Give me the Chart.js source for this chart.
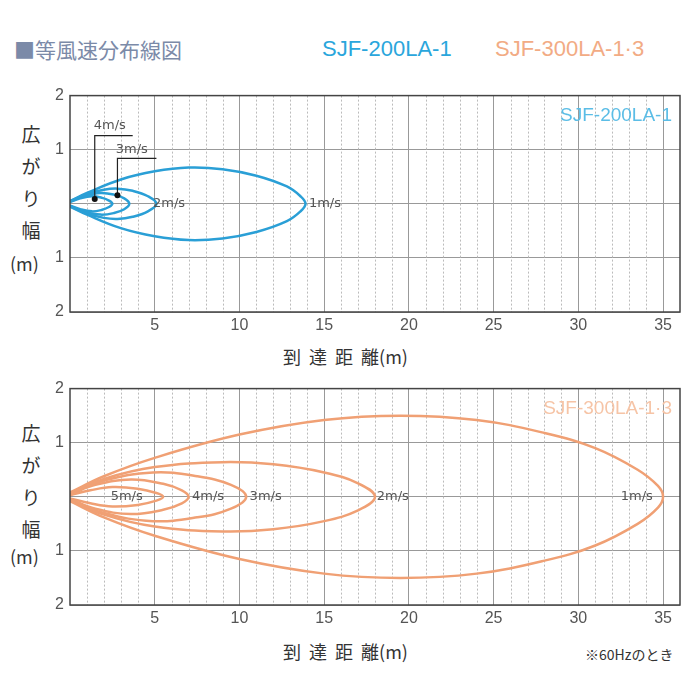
<!DOCTYPE html>
<html><head><meta charset="utf-8">
<script src="https://cdn.jsdelivr.net/npm/chart.js@4"></script>
<style>
body{margin:0;width:700px;height:700px;background:#fff;position:relative;overflow:hidden;font-family:"Noto Sans CJK JP","Noto Sans",sans-serif;color:#444}
canvas{position:absolute;left:0}
.t{position:absolute;white-space:nowrap}
.yt{position:absolute;left:18px;font-size:19px;line-height:32px;width:26px;text-align:center;color:#333}
</style></head><body>
<div class="t" style="left:14px;top:34px;font-size:21px;color:#7b8aa8">■等風速分布線図</div>
<div class="t" style="left:322px;top:36px;font-size:22px;color:#2aa6dc;font-family:'Liberation Sans',sans-serif">SJF-200LA-1</div>
<div class="t" style="left:495px;top:36px;font-size:22px;color:#f2ab84;font-family:'Liberation Sans',sans-serif">SJF-300LA-1·3</div>
<div class="yt" style="top:118px">広<br>が<br>り<br>幅</div>
<div class="t" style="left:10px;top:250px;font-size:18px;color:#333">(m)</div>
<div class="yt" style="top:417px">広<br>が<br>り<br>幅</div>
<div class="t" style="left:10px;top:543px;font-size:18px;color:#333">(m)</div>
<div class="t" style="left:283px;top:343px;font-size:18px;color:#333;word-spacing:4px">到 達 距 離(m)</div>
<div class="t" style="left:283px;top:638px;font-size:18px;color:#333;word-spacing:4px">到 達 距 離(m)</div>
<div class="t" style="left:585px;top:644px;font-size:14px;color:#333">※60Hzのとき</div>
<canvas id="c1" width="700" height="258" style="top:80px"></canvas>
<canvas id="c2" width="700" height="258" style="top:373px"></canvas>
<script>
// upper half of each contour [x, halfWidth]; lower half is the mirror
const top1 = [[0,0.05],[1,0.2],[3,0.45],[5,0.6],[7,0.67],[9,0.64],[11,0.52],[12.8,0.32],[13.6,0.14],[13.9,0]];
const top2 = [[0,0.05],[1,0.18],[2,0.26],[2.8,0.28],[3.7,0.24],[4.6,0.14],[5.1,0]];
const top3 = [[0,0.04],[0.8,0.14],[1.8,0.2],[2.6,0.17],[3.2,0.1],[3.5,0]];
const top4 = [[0,0.03],[0.6,0.1],[1.3,0.14],[1.9,0.11],[2.3,0.06],[2.5,0]];
const bot1 = [[0,0.08],[2,0.38],[5,0.72],[10,1.15],[15,1.42],[19.5,1.5],[24,1.42],[28,1.18],[31,0.9],[33.5,0.5],[34.7,0.2],[35,0]];
const bot2 = [[0,0.06],[2,0.33],[5,0.55],[9,0.64],[12,0.6],[15,0.45],[17,0.25],[18,0]];
const bot3 = [[0,0.05],[2,0.3],[4.9,0.45],[7.5,0.38],[9.5,0.22],[10.4,0]];
const bot4 = [[0,0.04],[1.5,0.22],[3.6,0.32],[5.5,0.24],[6.6,0.12],[7,0]];
const bot5 = [[0,0.03],[1.2,0.12],[2.5,0.18],[4,0.15],[5.1,0.07],[5.5,0]];
const topLabels = [['2m/s',4.9,0,'left'],['1m/s',14.1,0,'left'],['4m/s',1.4,1.45,'left'],['3m/s',2.7,1.0,'left']];
const botLabels = [['5m/s',2.4,0,'left'],['4m/s',7.2,0,'left'],['3m/s',10.6,0,'left'],['2m/s',18.1,0,'left'],['1m/s',34.4,0,'right']];
const leaders = [[[1.46,0.09],[1.46,1.26],[3.7,1.26]],[[2.8,0.16],[2.8,0.84],[5.1,0.84]]];
const xTicks = [5,10,15,20,25,30,35];

function loop(half){
  const up = half.map(p => ({x:p[0], y:p[1]}));
  const low = half.slice(0,-1).reverse().map(p => ({x:p[0], y:-p[1]}));
  return up.concat(low);
}

const overlay = {
  id:'overlay',
  beforeDatasetsDraw(chart){
    const {ctx, chartArea:a, scales:{x}} = chart;
    ctx.save();
    ctx.strokeStyle='#bbb'; ctx.lineWidth=1; ctx.setLineDash([2,2]);
    for(let v=1; v<36; v++){
      if(v%5===0) continue;
      const px=Math.round(x.getPixelForValue(v))+0.5;
      ctx.beginPath(); ctx.moveTo(px,a.top); ctx.lineTo(px,a.bottom); ctx.stroke();
    }
    ctx.restore();
  },
  afterDatasetsDraw(chart, args, opts){
    const {ctx, chartArea:a, scales:{x,y}} = chart;
    ctx.save();
    ctx.strokeStyle='#444'; ctx.lineWidth=1.5;
    ctx.strokeRect(a.left,a.top,a.right-a.left,a.bottom-a.top);
    ctx.fillStyle='#555'; ctx.font='13px "DejaVu Sans"'; ctx.textBaseline='middle';
    (opts.labels||[]).forEach(l=>{
      ctx.textAlign=l[3];
      ctx.fillText(l[0], x.getPixelForValue(l[1]), y.getPixelForValue(l[2]));
    });
    ctx.font='19px "Liberation Sans"'; ctx.fillStyle=opts.nameColor; ctx.textAlign='right';
    ctx.fillText(opts.name, a.right-8, a.top+20);
    (opts.leaders||[]).forEach(pts=>{
      ctx.strokeStyle='#222'; ctx.lineWidth=1.2; ctx.beginPath();
      pts.forEach((p,i)=>{const px=x.getPixelForValue(p[0]),py=y.getPixelForValue(p[1]); i?ctx.lineTo(px,py):ctx.moveTo(px,py);});
      ctx.stroke();
      ctx.fillStyle='#111'; ctx.beginPath();
      ctx.arc(x.getPixelForValue(pts[0][0]),y.getPixelForValue(pts[0][1]),3,0,Math.PI*2); ctx.fill();
    });
    ctx.restore();
  }
};

function makeChart(id, contours, color, labels, name, nameColor, lead){
  return new Chart(document.getElementById(id), {
    type:'scatter',
    data:{datasets: contours.map(c=>({data:loop(c), showLine:true, tension:0.4, borderColor:color, borderWidth:2.5, pointRadius:0, fill:false}))},
    options:{
      responsive:false, animation:false,
      layout:{padding:{top:8,right:20,left:0,bottom:0}},
      plugins:{legend:{display:false}, tooltip:{enabled:false},
        overlay:{labels, name, nameColor, leaders:lead}},
      scales:{
        x:{type:'linear', min:0, max:36,
          afterBuildTicks:s=>{s.ticks=xTicks.map(v=>({value:v}));},
          afterFit:s=>{s.height=26;},
          grid:{color:'#999', drawTicks:false}, border:{display:false},
          ticks:{color:'#555', font:{size:16, family:'Liberation Sans'}, padding:4}},
        y:{min:-2, max:2,
          afterBuildTicks:s=>{s.ticks=[-2,-1,0,1,2].map(v=>({value:v}));},
          afterFit:s=>{s.width=70;},
          grid:{color:'#999', drawTicks:false}, border:{display:false},
          ticks:{color:'#555', font:{size:16, family:'Liberation Sans'}, padding:6,
            callback:v=>v===0?'':Math.abs(v)}}
      }
    },
    plugins:[overlay]
  });
}

makeChart('c1',[top1,top2,top3,top4],'#2a9fd6',topLabels,'SJF-200LA-1','#5bbde6',leaders);
makeChart('c2',[bot1,bot2,bot3,bot4,bot5],'#f0a074',botLabels,'SJF-300LA-1·3','#f6c4a6',[]);
</script>
</body></html>
